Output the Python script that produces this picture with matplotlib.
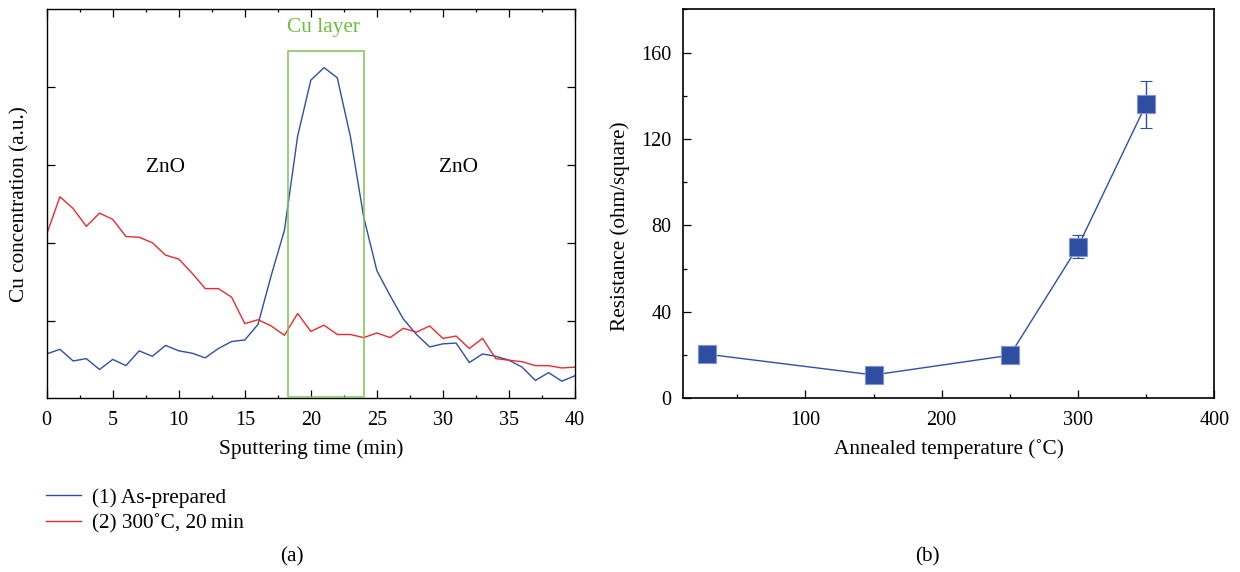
import numpy as np
import matplotlib
matplotlib.use('Agg')
import matplotlib.pyplot as plt
from matplotlib.ticker import MultipleLocator
from matplotlib.patches import Rectangle
from matplotlib.lines import Line2D

plt.rcParams['font.family'] = ['Liberation Serif', 'DejaVu Serif']

# (a) Cu depth profile
time_min = np.arange(0, 41)
as_prepared = [0.57, 0.63, 0.48, 0.51, 0.37, 0.50, 0.42, 0.61, 0.54, 0.68,
               0.61, 0.58, 0.52, 0.64, 0.73, 0.75, 0.95, 1.58, 2.16, 3.37,
               4.09, 4.25, 4.12, 3.36, 2.33, 1.64, 1.32, 1.02, 0.82, 0.66,
               0.70, 0.71, 0.46, 0.57, 0.54, 0.49, 0.40, 0.23, 0.33, 0.22,
               0.29]
annealed_300 = [2.11, 2.59, 2.44, 2.21, 2.38, 2.30, 2.08, 2.07, 2.00, 1.84,
                1.79, 1.61, 1.41, 1.41, 1.30, 0.96, 1.01, 0.93, 0.81, 1.09,
                0.86, 0.94, 0.82, 0.82, 0.78, 0.84, 0.78, 0.90, 0.85, 0.93,
                0.77, 0.80, 0.64, 0.77, 0.51, 0.49, 0.47, 0.42, 0.42, 0.39,
                0.40]
cu_layer = (18.3, 24.0)   # time window of the Cu layer box
cu_box_top = 4.46

# (b) sheet resistance vs annealing temperature
temp_c = [28, 150, 250, 300, 350]
resistance = [20.4, 10.8, 19.9, 70.2, 136.1]
res_err = [0, 0, 0, 5.2, 10.8]

blue = '#2E4FA3'
red = '#EE2A2E'
green = '#7DC450'

W, H = 1240, 572
fig = plt.figure(figsize=(W / 100, H / 100), dpi=100)


def px_axes(x0, y0, x1, y1):
    return fig.add_axes([x0 / W, 1 - y1 / H, (x1 - x0) / W, (y1 - y0) / H])


fs = 15.3
tfs = 14.5

# ---- left panel
ax1 = px_axes(46.7, 9.3, 575, 398.3)
ax1.plot(time_min, as_prepared, color=blue, lw=1.0)
ax1.plot(time_min, annealed_300, color=red, lw=1.0)
ax1.add_patch(Rectangle((cu_layer[0], 0.02), cu_layer[1] - cu_layer[0], cu_box_top - 0.02,
                        fill=False, edgecolor=green, lw=1.1, zorder=3))
ax1.text(sum(cu_layer) / 2 - 0.2, 4.76, 'Cu layer', color='#6CBF3A', fontsize=fs,
         ha='center', va='center')
ax1.text(9.0, 2.97, 'ZnO', fontsize=fs, ha='center', va='center')
ax1.text(31.2, 2.97, 'ZnO', fontsize=fs, ha='center', va='center')

ax1.set_xlim(0, 40)
ax1.set_ylim(0, 5)
ax1.xaxis.set_major_locator(MultipleLocator(5))
ax1.xaxis.set_minor_locator(MultipleLocator(2.5))
ax1.set_yticks([1, 2, 3, 4])
ax1.tick_params(which='both', direction='in', top=True, right=True, labelsize=tfs,
                width=0.9, pad=9)
ax1.tick_params(which='major', length=5.5)
ax1.tick_params(which='minor', length=2.5)
ax1.tick_params(axis='y', labelleft=False)
for s in ax1.spines.values():
    s.set_linewidth(1.0)
ax1.set_xlabel('Sputtering time (min)', fontsize=fs, va='center')
ax1.xaxis.set_label_coords(0.5, (398.3 - 449) / 389)
ax1.set_ylabel('Cu concentration (a.u.)', fontsize=fs, va='center')
ax1.yaxis.set_label_coords((20 - 46.7) / 528.3, 0.5)

handles = [Line2D([], [], color=blue, lw=1.0), Line2D([], [], color=red, lw=1.0)]
fig.legend(handles, ['(1) As-prepared', '(2) 300\u02daC, 20\u2009min'],
           loc='upper left', bbox_to_anchor=(45.7 / W, 1 - 488 / H),
           bbox_transform=fig.transFigure, frameon=False, fontsize=fs,
           borderaxespad=0, borderpad=0, handlelength=1.65, handletextpad=0.52,
           labelspacing=0.25)

# ---- right panel
ax2 = px_axes(682.7, 9.3, 1214.3, 398.3)
ax2.errorbar(temp_c, resistance, yerr=res_err, color=blue, lw=1.0,
             marker='s', markersize=12.5, markerfacecolor='#2F4EA2',
             markeredgecolor='#7D95D8', markeredgewidth=0.8,
             capsize=4, elinewidth=1.0, capthick=1.0)
ax2.set_xlim(10, 400)
ax2.set_ylim(0, 180)
ax2.xaxis.set_major_locator(MultipleLocator(100))
ax2.xaxis.set_minor_locator(MultipleLocator(50))
ax2.yaxis.set_major_locator(MultipleLocator(40))
ax2.yaxis.set_minor_locator(MultipleLocator(20))
ax2.tick_params(which='both', direction='in', labelsize=tfs, width=0.9)
ax2.tick_params(axis='x', pad=9)
ax2.tick_params(axis='y', pad=8)
ax2.tick_params(which='major', length=5.5)
ax2.tick_params(which='minor', length=3)
for s in ax2.spines.values():
    s.set_linewidth(1.2)
ax2.set_xlabel('Annealed temperature (\u02daC)', fontsize=fs, va='center')
ax2.xaxis.set_label_coords(0.5, (398.3 - 449) / 389)
ax2.set_ylabel('Resistance (ohm/square)', fontsize=fs, va='center')
ax2.yaxis.set_label_coords((620 - 682.7) / 531.6, (398.3 - 226) / 389)

fig.text(292 / W, 1 - 557 / H, '(a)', fontsize=fs, ha='center', va='center')
fig.text(927 / W, 1 - 557 / H, '(b)', fontsize=fs, ha='center', va='center')

fig.savefig('out.png', dpi=100)
